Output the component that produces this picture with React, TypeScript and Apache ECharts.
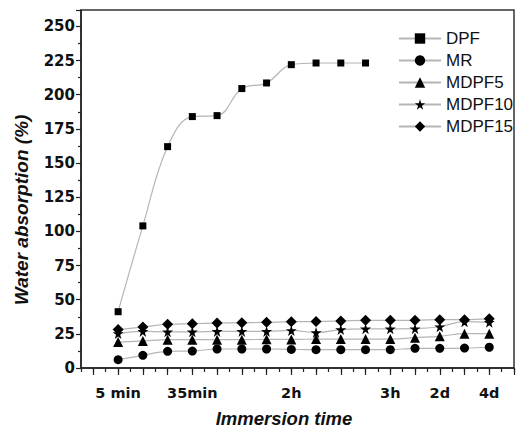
import React, { useEffect, useRef } from "react";
import * as echarts from "echarts";

const xLabels = ["5 min", "", "", "35min", "", "", "", "2h", "", "", "", "3h", "", "2d", "", "4d"];
const seriesNames = ["DPF", "MR", "MDPF5", "MDPF10", "MDPF15"];
const dpf = [41.2, 104, 162, 184, 184.7, 204.5, 208.6, 222, 223.2, 223.2, 223.2];
const mr = [6.1, 9.3, 12.2, 12.4, 13.9, 13.9, 13.9, 13.6, 13.4, 13.4, 13.4, 13.4, 14.4, 14.4, 14.6, 15.2];
const mdpf5 = [19, 19.8, 20.7, 20.7, 20.7, 20.7, 21, 20.9, 21.2, 21.2, 21.2, 21.2, 22.2, 23.2, 25.1, 25.1];
const mdpf10 = [25.3, 26.8, 26.5, 26.5, 26.8, 26.8, 26.8, 27.5, 25.9, 28.1, 28.7, 28.7, 28.8, 30.2, 33.9, 33.4];
const mdpf15 = [28.1, 30, 32, 32.4, 32.9, 33.2, 33.4, 33.9, 34, 34.4, 34.9, 34.9, 34.9, 35.4, 35.4, 36];
const yTicks = [0, 25, 50, 75, 100, 125, 150, 175, 200, 225, 250];

const STAR = "path://M50,0 L61,35 L98,35 L68,57 L79,91 L50,70 L21,91 L32,57 L2,35 L39,35 Z";

export default function App() {
  const ref = useRef<HTMLDivElement>(null);
  useEffect(() => {
    if (!ref.current) return;
    const chart = echarts.init(ref.current, null, { renderer: "svg" });
    const W = 521;
    const gLeft = 81;
    const gRight = 7;
    const gTop = 10;
    const gBottom = 59;
    const unit = (W - gLeft - gRight) / 17.5;
    const mk = (arr: number[]) => arr.map((v, i) => [i, v]);
    const tickFont = { fontFamily: "DejaVu Sans", fontWeight: "bold" as const, fontSize: 14.5, color: "#111" };
    const datas = [dpf, mr, mdpf5, mdpf10, mdpf15];
    const symbols = ["rect", "circle", "triangle", STAR, "diamond"];
    const sizes = [7, 9, 10, 11, 11];
    chart.setOption({
      animation: false,
      backgroundColor: "#fff",
      grid: [
        { left: gLeft, right: gRight, top: gTop, bottom: gBottom, show: true, borderColor: "#333", borderWidth: 1.5 },
        { left: gLeft + unit * 0.5, right: gRight, top: gTop, bottom: gBottom },
      ],
      xAxis: [
        {
          type: "value",
          gridIndex: 0,
          min: -1.5,
          max: 16,
          interval: 0.5,
          axisLine: { show: true, onZero: false, lineStyle: { color: "#222", width: 1.5 } },
          axisTick: { show: true, inside: false, length: 4, lineStyle: { color: "#222", width: 1.2 } },
          splitLine: { show: false },
          axisLabel: {
            ...tickFont,
            margin: 17.5,
            showMinLabel: true,
            showMaxLabel: true,
            formatter: (v: number) => {
              const i = Math.round(v);
              if (Math.abs(v - i) > 1e-6 || i < 0 || i >= xLabels.length) return "";
              return xLabels[i];
            },
          },
        },
        {
          type: "value",
          gridIndex: 1,
          min: -1,
          max: 16,
          interval: 1,
          axisLine: { show: false, onZero: false },
          axisTick: { show: true, inside: false, length: 7, lineStyle: { color: "#222", width: 1.2 } },
          splitLine: { show: false },
          axisLabel: { show: false },
        },
      ],
      yAxis: [
        {
          type: "value",
          gridIndex: 0,
          min: 0,
          max: 262,
          interval: 25,
          axisLine: { show: true, onZero: false, lineStyle: { color: "#222", width: 1.5 } },
          axisTick: { show: true, inside: false, length: 5, lineStyle: { color: "#222", width: 1.2 } },
          minorTick: { show: true, splitNumber: 2, length: 3, lineStyle: { color: "#222", width: 1.2 } },
          splitLine: { show: false },
          axisLabel: {
            ...tickFont,
            fontSize: 15,
            margin: 6,
            formatter: (v: number) => (yTicks.indexOf(v) >= 0 ? String(v) : ""),
          },
        },
        {
          type: "value",
          gridIndex: 1,
          min: 0,
          max: 262,
          show: false,
        },
      ],
      legend: {
        orient: "vertical",
        left: 398,
        top: 30,
        padding: 0,
        itemWidth: 42,
        itemHeight: 13,
        itemGap: 5,
        data: seriesNames,
        textStyle: { fontFamily: "Liberation Sans", fontSize: 17, color: "#111" },
      },
      graphic: [
        {
          type: "text",
          x: 21,
          y: 210,
          rotation: Math.PI / 2,
          style: {
            text: "Water absorption (%)",
            fontFamily: "Liberation Sans",
            fontWeight: "bold",
            fontStyle: "italic",
            fontSize: 19,
            fill: "#111",
            align: "center",
            verticalAlign: "middle",
          },
        },
        {
          type: "text",
          x: 284,
          y: 418,
          style: {
            text: "Immersion time",
            fontFamily: "Liberation Sans",
            fontWeight: "bold",
            fontStyle: "italic",
            fontSize: 18.5,
            fill: "#111",
            align: "center",
            verticalAlign: "middle",
          },
        },
      ],
      series: seriesNames.map((name, k) => ({
        name,
        type: "line",
        xAxisIndex: 0,
        yAxisIndex: 0,
        data: mk(datas[k]),
        smooth: 0.4,
        symbol: symbols[k],
        symbolSize: sizes[k],
        showSymbol: true,
        lineStyle: { color: "#b5b5b5", width: 1.2 },
        itemStyle: { color: "#000" },
        z: 2 + k,
      })),
    });
    return () => chart.dispose();
  }, []);
  return <div ref={ref} style={{ position: "absolute", left: 0, top: 0, width: 521, height: 427 }} />;
}
